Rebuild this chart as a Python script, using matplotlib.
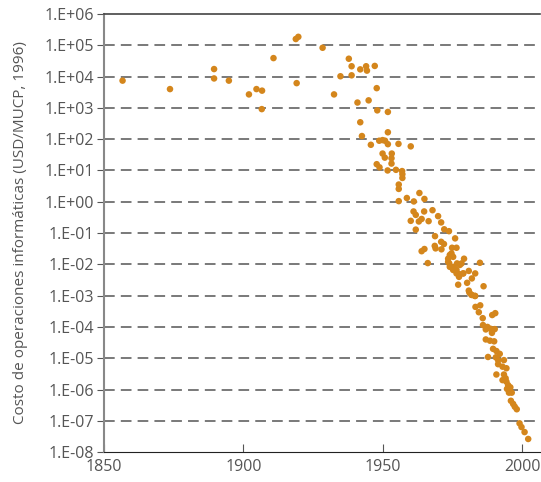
import numpy as np
import matplotlib
matplotlib.use("Agg")
import matplotlib.pyplot as plt
from matplotlib.ticker import FuncFormatter, FixedLocator

# year of each machine and log10 of its cost (USD/MUCP, 1996)
years = [1856.7, 1873.7, 1889.5, 1889.5, 1894.8, 1902.0, 1904.7, 1906.7, 1906.6, 1910.8,
         1918.8, 1919.7, 1919.1, 1928.4, 1937.8, 1938.8, 1941.9, 1944.0, 1944.3, 1947.1,
         1934.8, 1938.8, 1932.5, 1947.8, 1940.9, 1944.9, 1948.0, 1951.8, 1941.9, 1942.5,
         1951.8, 1945.7, 1948.7, 1949.9, 1950.8, 1951.8, 1955.6, 1960.0, 1949.9, 1953.2,
         1950.7, 1953.1, 1953.1, 1947.8, 1948.8, 1951.7, 1954.7, 1956.9, 1957.0, 1957.0,
         1955.7, 1955.7, 1963.1, 1964.9, 1955.7, 1958.6, 1961.1, 1961.0, 1961.8, 1964.8,
         1967.8, 1969.8, 1960.0, 1962.9, 1963.9, 1966.4, 1970.9, 1961.8, 1972.0, 1973.7,
         1968.7, 1975.9, 1968.6, 1970.9, 1971.9, 1971.0, 1968.9, 1974.8, 1976.4, 1964.9,
         1963.9, 1974.6, 1973.4, 1979.1, 1966.1, 1984.8, 1973.8, 1975.4, 1977.6, 1976.4,
         1977.3, 1978.8, 1980.8, 1983.1, 1980.2, 1981.9, 1977.0, 1986.1, 1980.8, 1981.9,
         1983.1, 1981.0, 1981.7, 1983.0, 1983.2, 1984.9, 1984.4, 1989.2, 1990.3, 1985.8,
         1985.9, 1986.9, 1987.5, 1988.6, 1990.1, 1989.1, 1986.9, 1988.4, 1989.9, 1989.5,
         1990.7, 1991.9, 1987.7, 1990.5, 1991.3, 1993.4, 1991.3, 1992.9, 1990.7, 1994.3,
         1993.4, 1994.0, 1992.9, 1994.3, 1994.9, 1995.7, 1994.5, 1996.2, 1995.2, 1995.9,
         1996.7, 1997.3, 1998.0, 1999.0, 1999.7, 2000.8, 2002.1, 1974.0, 1973.4, 1974.0,
         1975.2, 1976.4, 1977.3, 1976.6, 1978.2, 1978.8, 1975.2]
log_cost = [3.87, 3.60, 4.24, 3.94, 3.87, 3.43, 3.60, 3.55, 2.96, 4.59,
            5.20, 5.27, 3.79, 4.92, 4.57, 4.33, 4.23, 4.33, 4.19, 4.34,
            4.01, 4.04, 3.43, 3.63, 3.17, 3.24, 2.92, 2.87, 2.54, 2.10,
            2.22, 1.82, 1.95, 1.97, 1.95, 1.84, 1.85, 1.77, 1.54, 1.54,
            1.41, 1.39, 1.22, 1.20, 1.10, 1.00, 1.02, 0.98, 0.88, 0.76,
            0.55, 0.41, 0.28, 0.09, 0.02, 0.12, 0.01, -0.31, -0.42, -0.31,
            -0.27, -0.46, -0.61, -0.63, -0.55, -0.62, -0.66, -0.89, -0.88, -0.94,
            -1.10, -1.17, -1.41, -1.28, -1.35, -1.52, -1.49, -1.47, -1.47, -1.51,
            -1.58, -1.65, -1.82, -1.82, -1.96, -1.95, -1.97, -2.08, -2.02, -2.18,
            -2.31, -2.29, -2.21, -2.29, -2.59, -2.45, -2.65, -2.70, -2.84, -2.98,
            -3.01, -2.90, -2.97, -3.01, -3.36, -3.31, -3.53, -3.62, -3.56, -3.72,
            -3.94, -4.08, -4.00, -4.06, -4.07, -4.19, -4.40, -4.44, -4.46, -4.70,
            -4.77, -4.86, -4.96, -4.97, -5.06, -5.06, -5.19, -5.27, -5.52, -5.32,
            -5.52, -5.64, -5.70, -5.75, -5.86, -5.93, -5.98, -6.10, -6.10, -6.36,
            -6.46, -6.55, -6.63, -7.08, -7.20, -7.36, -7.58, -1.70, -1.92, -2.08,
            -2.18, -2.29, -2.40, -1.97, -1.97, -2.29, -1.76]

ytick_exp = list(range(-8, 7))
xticks = [1850, 1900, 1950, 2000]

cost = 10.0 ** np.array(log_cost)

plt.rcParams['font.family'] = ['Open Sans', 'DejaVu Sans']
fig = plt.figure(figsize=(5.41, 4.82), dpi=100)
ax = fig.add_axes([0.192, 0.062, 0.806, 0.909])

ax.scatter(years, cost, s=22, color='#D4861C', edgecolors='none', zorder=3)

ax.set_yscale('log')
ax.set_ylim(1e-8, 1e6)
ax.set_xlim(1850, 2006.3)

ax.yaxis.set_major_locator(FixedLocator([10.0 ** e for e in ytick_exp]))
ax.yaxis.set_minor_locator(FixedLocator([]))
ax.yaxis.set_major_formatter(FuncFormatter(
    lambda v, p: '1.E%s%02d' % ('+' if np.log10(v) >= 0 else '-', abs(round(np.log10(v))))))
ax.set_xticks(xticks)

for e in ytick_exp[1:-1]:
    ax.axhline(10.0 ** e, color='#555555', lw=1.1, ls=(0, (7, 4)), zorder=1)

ax.spines['right'].set_visible(False)
ax.spines['top'].set_color('#444444')
ax.spines['top'].set_linewidth(1.2)
ax.spines['left'].set_color('#888888')
ax.spines['left'].set_linewidth(1.5)
ax.spines['bottom'].set_color('#222222')

ax.tick_params(axis='y', direction='out', length=5, color='#555555', labelsize=11.5,
               labelcolor='#555555', pad=2)
ax.tick_params(axis='x', direction='in', length=6, color='#555555', labelsize=11.5,
               labelcolor='#555555', pad=5)

ax.set_ylabel('Costo de operaciones informáticas (USD/MUCP, 1996)', fontsize=11,
              color='#555555', labelpad=12)

fig.savefig('out.png', dpi=100)
